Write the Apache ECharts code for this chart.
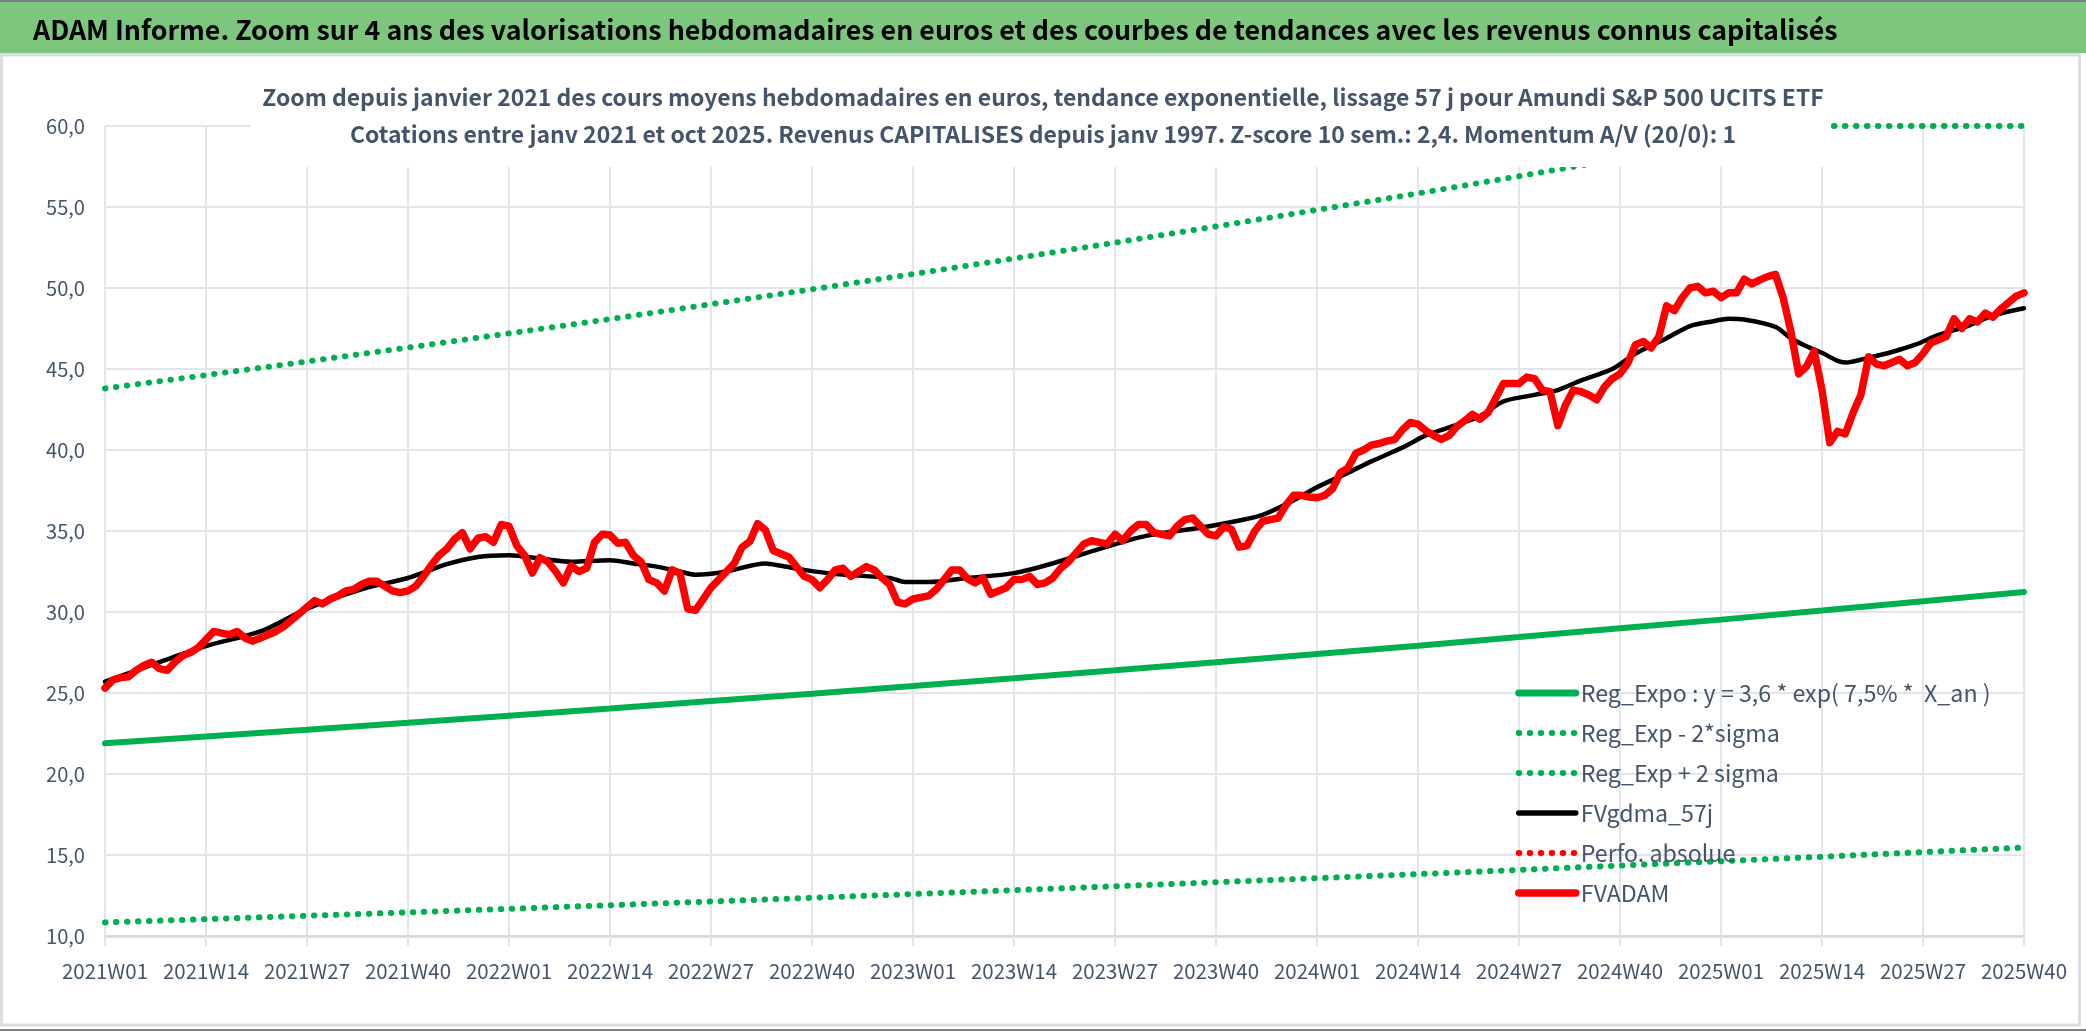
<!DOCTYPE html>
<html><head><meta charset="utf-8">
<script src="https://cdn.jsdelivr.net/npm/echarts@6/dist/echarts.min.js"></script>
<style>html,body{margin:0;padding:0;background:#fff}#c{width:2086px;height:1031px}</style>
</head><body><div id="c"></div>
<script>
// ---------- data ----------
const tickLabels = ['2021W01','2021W14','2021W27','2021W40','2022W01','2022W14','2022W27','2022W40',
  '2023W01','2023W14','2023W27','2023W40','2024W01','2024W14','2024W27','2024W40',
  '2025W01','2025W14','2025W27','2025W40'];
const yTicks = [10, 15, 20, 25, 30, 35, 40, 45, 50, 55, 60];

// FVADAM weekly values, 2021W01 .. 2025W40 (248 weeks)
const fvadam = [
  25.3, 25.8, 25.95, 26.0, 26.4, 26.7, 26.9, 26.5, 26.4, 26.9, 27.3, 27.5, 27.8,
  28.3, 28.8, 28.7, 28.6, 28.8, 28.4, 28.2, 28.4, 28.6, 28.8, 29.1, 29.5, 29.9,
  30.3, 30.7, 30.5, 30.8, 31.0, 31.3, 31.4, 31.7, 31.9, 31.9, 31.6, 31.3, 31.2,
  31.3, 31.6, 32.2, 32.9, 33.5, 33.9, 34.5, 34.9, 33.9, 34.55, 34.65, 34.3, 35.4,
  35.3, 34.1, 33.5, 32.4, 33.35, 33.1, 32.5, 31.8, 32.85, 32.5, 32.7, 34.3, 34.8,
  34.75, 34.25, 34.3, 33.5, 33.1, 32.0, 31.8, 31.3, 32.6, 32.4, 30.2, 30.1, 30.8,
  31.5, 32.0, 32.5, 33.0, 34.0, 34.35, 35.45, 35.05, 33.8, 33.6, 33.4, 32.8, 32.2,
  32.0, 31.5, 32.0, 32.6, 32.7, 32.2, 32.5, 32.8, 32.6, 32.1, 31.7, 30.6, 30.5,
  30.8, 30.9, 31.0, 31.4, 32.0, 32.6, 32.6, 32.05, 31.8, 32.1, 31.1, 31.3, 31.5,
  32.0, 32.0, 32.2, 31.7, 31.8, 32.1, 32.7, 33.1, 33.65, 34.2, 34.4, 34.3, 34.2,
  34.8, 34.4, 35.0, 35.4, 35.4, 34.9, 34.8, 34.7, 35.3, 35.7, 35.8, 35.3, 34.8,
  34.7, 35.25, 35.1, 34.0, 34.1, 35.0, 35.6, 35.7, 35.8, 36.6, 37.2, 37.2, 37.1,
  37.05, 37.2, 37.6, 38.6, 38.9, 39.8, 40.0, 40.3, 40.4, 40.55, 40.65, 41.25, 41.7,
  41.6, 41.2, 40.9, 40.65, 40.9, 41.45, 41.8, 42.2, 41.9, 42.3, 43.2, 44.1, 44.1,
  44.1, 44.5, 44.4, 43.7, 43.6, 41.5, 42.8, 43.7, 43.6, 43.4, 43.1, 43.9, 44.4,
  44.7, 45.35, 46.5, 46.7, 46.3, 47.0, 48.9, 48.6, 49.4, 50.0, 50.1, 49.7, 49.8,
  49.4, 49.7, 49.7, 50.55, 50.25, 50.5, 50.7, 50.85, 49.4, 47.3, 44.7, 45.15, 46.1,
  43.7, 40.45, 41.15, 41.0, 42.3, 43.4, 45.75, 45.3, 45.2, 45.4, 45.6, 45.2, 45.4,
  45.95, 46.6, 46.8, 47.0, 48.1, 47.5, 48.1, 47.9, 48.45, 48.2, 48.7, 49.1, 49.5,
  49.7
];

// FVgdma_57j (smoothed), read at these week indices
const gdmaWeek = [0, 7, 13, 20, 26, 33, 39, 44, 48, 52, 56, 60, 65, 68, 71, 74, 76, 80, 85, 87, 90, 94,
  101, 103, 106, 111, 117, 122, 128, 134, 141, 146, 149, 153, 156, 160, 163, 167, 170, 173, 177, 180,
  184, 187, 190, 194, 197, 201, 204, 207, 209, 211, 215, 217, 219, 221, 223, 224, 227, 230, 233, 236,
  240, 243, 247];
const gdmaVal = [25.7, 26.9, 27.9, 28.8, 30.2, 31.4, 32.1, 32.95, 33.4, 33.5, 33.3, 33.1, 33.2, 33.0, 32.8,
  32.5, 32.3, 32.5, 33.0, 32.85, 32.6, 32.35, 32.1, 31.85, 31.85, 32.1, 32.4, 33.0, 33.9, 34.7, 35.2,
  35.65, 36.0, 36.9, 37.7, 38.6, 39.3, 40.15, 40.9, 41.4, 42.1, 43.0, 43.4, 43.7, 44.3, 45.0, 45.95,
  46.9, 47.65, 47.95, 48.1, 48.05, 47.6, 46.9, 46.4, 46.0, 45.5, 45.4, 45.7, 46.05, 46.5, 47.1, 47.7,
  48.3, 48.75];

// Regression curves, read at each axis tick (every 13 weeks)
const regWeek = [0, 13, 26, 39, 52, 65, 78, 91, 104, 117, 130, 143, 156, 169, 182, 195, 208, 221, 234, 247];
const regExpo = [21.90, 22.31, 22.73, 23.16, 23.60, 24.04, 24.50, 24.96, 25.43, 25.91, 26.40, 26.90,
  27.41, 27.92, 28.45, 28.99, 29.53, 30.09, 30.66, 31.24];
const regMinus = [10.84, 11.04, 11.25, 11.46, 11.68, 11.90, 12.13, 12.36, 12.59, 12.83, 13.07, 13.32,
  13.57, 13.82, 14.08, 14.35, 14.62, 14.89, 15.18, 15.46];
const regPlus = [43.80, 44.62, 45.46, 46.32, 47.20, 48.08, 49.00, 49.92, 50.86, 51.82, 52.80, 53.80,
  54.82, 55.84, 56.90, 57.98, 59.06, 60.18, 61.32, 62.48];
const perfoAbsolue = [];

const seriesNames = ['Reg_Expo : y = 3,6 * exp( 7,5% *  X_an )', 'Reg_Exp - 2*sigma', 'Reg_Exp + 2 sigma',
  'FVgdma_57j', 'Perfo. absolue', 'FVADAM'];
const titleText = 'ADAM Informe. Zoom sur 4 ans des valorisations hebdomadaires en euros et des courbes de tendances avec les revenus connus capitalisés';
const subLines = ['Zoom depuis janvier 2021 des cours moyens hebdomadaires en euros, tendance exponentielle, lissage 57 j pour Amundi S&P 500 UCITS ETF',
  'Cotations entre janv 2021 et oct 2025. Revenus CAPITALISES depuis janv 1997. Z-score 10 sem.: 2,4. Momentum A/V (20/0): 1'];

// ---------- styling ----------
const F = "'Noto Sans CJK SC', 'Noto Sans CJK JP', Lato, 'Liberation Sans', sans-serif";
const TXT = '#44546A';
const GREEN = '#00B050', RED = '#FF0000';
const GRIDC = '#E2E5EB';
const ctx = document.createElement('canvas').getContext('2d');
function fit(text, weight, target) {
  ctx.font = weight + ' 100px ' + F;
  return 100 * target / ctx.measureText(text).width;
}
const fsTitle = fit(titleText, 'bold', 1805);
const fsSub = fit(subLines[0], 'bold', 1562);
const fsLeg = fit(seriesNames[0], 'normal', 410);
const fsX = fit('2021W01', 'normal', 86);
const fsY = fit('60,0', 'normal', 39);
const Y_MAX = 60;

const chart = echarts.init(document.getElementById('c'), null, {renderer: 'canvas'});
const dotStyle = (c) => ({color: c, width: 6, type: [0.5, 10.5], cap: 'round'});
const noSym = {opacity: 0, borderWidth: 0};

chart.setOption({
  animation: false,
  backgroundColor: '#ffffff',
  graphic: [
    {type: 'rect', z: 0, silent: true, shape: {x: 0, y: 0, width: 2086, height: 53}, style: {fill: '#7DC67D'}},
    {type: 'rect', z: 0, silent: true, shape: {x: 0, y: 0, width: 2086, height: 2}, style: {fill: '#7F7F7F'}},
    {type: 'rect', z: 0, silent: true, shape: {x: 0, y: 53, width: 2080, height: 3}, style: {fill: '#D9DCE3'}},
    {type: 'rect', z: 0, silent: true, shape: {x: 1.5, y: 55, width: 2078, height: 970}, style: {fill: 'none', stroke: '#DADDE4', lineWidth: 3}},
    {type: 'rect', z: 0, silent: true, shape: {x: 0, y: 1029, width: 2086, height: 2}, style: {fill: '#7F7F7F'}},
    {type: 'rect', z: 10, silent: true, shape: {x: 251, y: 57, width: 1580, height: 110}, style: {fill: '#ffffff'}}
  ],
  title: [
    {text: titleText, left: 33, top: 30 - fsTitle / 2, padding: 0, z: 20,
     textStyle: {fontFamily: F, fontWeight: 'bold', fontSize: fsTitle, color: '#000000', lineHeight: fsTitle}},
    {text: subLines.join('\n'), left: 'center', top: 79, padding: 0, z: 20,
     textStyle: {fontFamily: F, fontWeight: 'bold', fontSize: fsSub, color: TXT, lineHeight: 37}}
  ],
  legend: {
    orient: 'vertical', left: 1515, top: 680, padding: 0,
    itemWidth: 57, itemHeight: 14, itemGap: 14, selectedMode: false,
    textStyle: {fontFamily: F, fontSize: fsLeg, color: TXT, lineHeight: 26},
    data: [
      {name: seriesNames[0], itemStyle: noSym, lineStyle: {color: GREEN, width: 7, type: 'solid', cap: 'round'}},
      {name: seriesNames[1], itemStyle: noSym, lineStyle: dotStyle(GREEN)},
      {name: seriesNames[2], itemStyle: noSym, lineStyle: dotStyle(GREEN)},
      {name: seriesNames[3], itemStyle: noSym, lineStyle: {color: '#000000', width: 5.5, type: 'solid', cap: 'round'}},
      {name: seriesNames[4], itemStyle: noSym, lineStyle: dotStyle(RED)},
      {name: seriesNames[5], itemStyle: noSym, lineStyle: {color: RED, width: 7.5, type: 'solid', cap: 'round'}}
    ]
  },
  grid: {left: 105, right: 62, top: 126, bottom: 95, containLabel: false},
  xAxis: {
    type: 'value', min: 0, max: 247, interval: 13,
    axisLine: {show: true, onZero: false, lineStyle: {color: '#D5D8DF', width: 2.5}},
    axisTick: {show: true, length: 10, lineStyle: {color: GRIDC, width: 2}},
    splitLine: {show: true, lineStyle: {color: GRIDC, width: 2}},
    axisLabel: {margin: 25, fontFamily: F, fontSize: fsX, color: TXT, showMinLabel: true, showMaxLabel: true,
      formatter: (v) => tickLabels[Math.round(v / 13)] || ''}
  },
  yAxis: {
    type: 'value', min: yTicks[0], max: yTicks[yTicks.length - 1], interval: 5,
    axisLine: {show: false}, axisTick: {show: false},
    splitLine: {show: true, lineStyle: {color: GRIDC, width: 2}},
    axisLabel: {margin: 20, fontFamily: F, fontSize: fsY, color: TXT,
      formatter: (v) => v.toFixed(1).replace('.', ',')}
  },
  series: [
    {name: seriesNames[0], type: 'line', symbol: 'none', silent: true, z: 2,
     data: regWeek.map((w, i) => [w, regExpo[i]]),
     lineStyle: {color: GREEN, width: 6, cap: 'round'}, itemStyle: {color: GREEN}},
    {name: seriesNames[1], type: 'line', symbol: 'none', silent: true, z: 2,
     data: regWeek.map((w, i) => [w, regMinus[i]]),
     lineStyle: dotStyle(GREEN), itemStyle: {color: GREEN}},
    {name: seriesNames[2], type: 'line', symbol: 'none', silent: true, z: 2, clip: false,
     data: regWeek.map((w, i) => [w, Math.min(regPlus[i], Y_MAX)]),
     lineStyle: dotStyle(GREEN), itemStyle: {color: GREEN}},
    {name: seriesNames[3], type: 'line', symbol: 'none', silent: true, z: 3, smooth: 0.3,
     data: gdmaWeek.map((w, i) => [w, gdmaVal[i]]),
     lineStyle: {color: '#000000', width: 4.5, cap: 'round', join: 'round'}, itemStyle: {color: '#000000'}},
    {name: seriesNames[4], type: 'line', symbol: 'none', silent: true, z: 3,
     data: perfoAbsolue, lineStyle: dotStyle(RED), itemStyle: {color: RED}},
    {name: seriesNames[5], type: 'line', symbol: 'none', silent: true, z: 4,
     data: fvadam.map((v, i) => [i, v]),
     lineStyle: {color: RED, width: 7.5, cap: 'round', join: 'round'}, itemStyle: {color: RED}}
  ]
});
</script></body></html>
